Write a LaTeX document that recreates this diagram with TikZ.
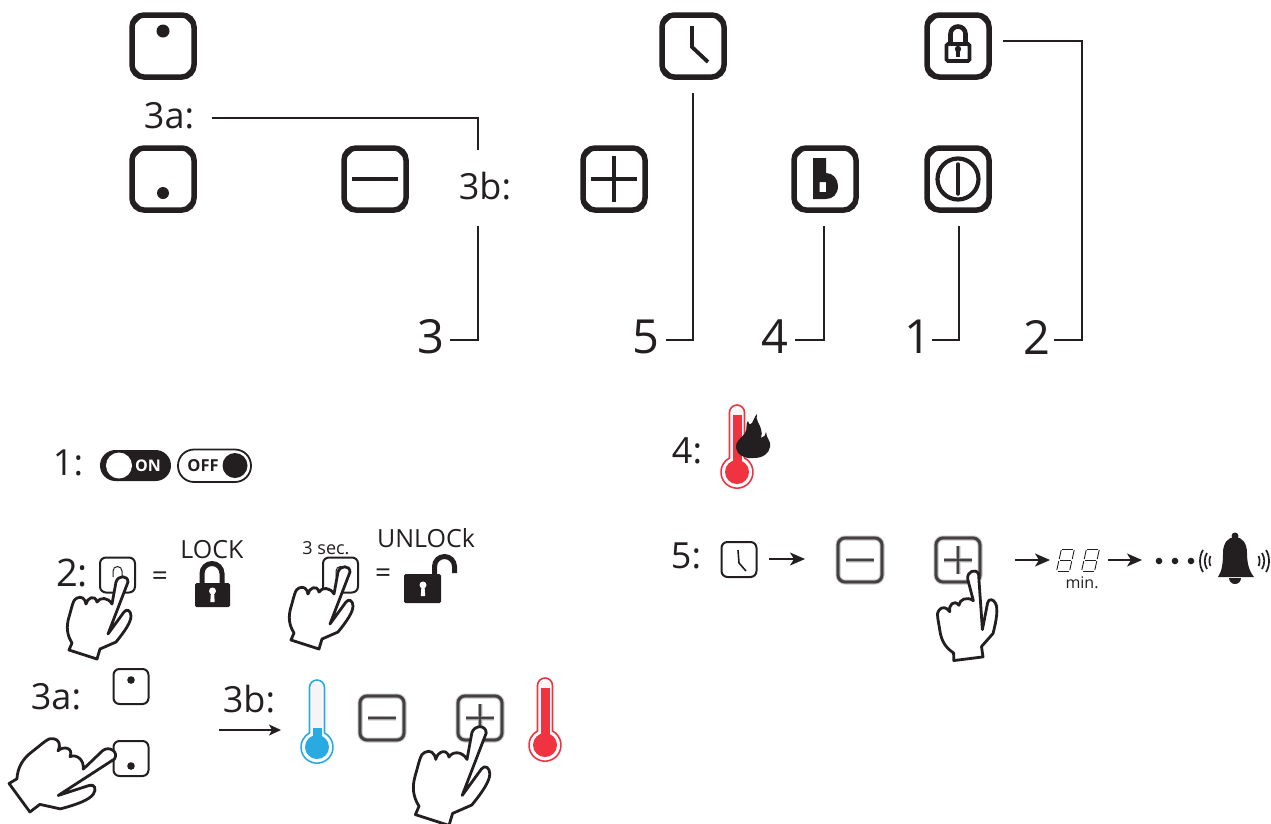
\documentclass[tikz,border=0pt]{standalone}
\usepackage{fontspec}
\setmainfont{Open Sans}
\usetikzlibrary{arrows.meta}
\definecolor{ink}{HTML}{231F20}
\definecolor{tred}{HTML}{EF3340}
\definecolor{tblue}{HTML}{29ABE2}
\newcommand{\fsz}[1]{\fontsize{#1}{#1}\selectfont}
\newcommand{\ThermoIcon}[4]{% cx, top, colour, fill top
  \draw[#3,line width=1.6,fill=white] ({#1-7.5},{#2+7.5}) arc[start angle=180,end angle=0,radius=7.5pt]
     -- ({#1+7.5},{#2+53}) arc[start angle=62,end angle=-242,radius=16pt] -- cycle;
  \fill[black!4] ({#1-5},{#2+4}) rectangle ({#1+5},{#4});
  \fill[#3] ({#1-4.5},{#4}) rectangle ({#1+4.5},{#2+60});
  \fill[#3] (#1,{#2+67}) circle[radius=12pt];
}
\newcommand{\BigLockBody}[4]{% x0 y0 x1 y1
  \fill[ink,rounded corners=1.5] (#1,#2) rectangle (#3,#4);
}
\newcommand{\KeyHole}[2]{%
  \fill[white] (#1,#2) circle[radius=3.5pt];
  \fill[white] ({#1-1.5},#2) -- ({#1+1.5},#2) -- ({#1+2.2},{#2+11}) -- ({#1-2.2},{#2+11}) -- cycle;
}
\tikzset{
  lab/.style={inner sep=0pt,text=ink},
  lead/.style={draw=ink,line width=1.5},
  btn/.style={draw=ink,line width=5.5,rounded corners=12,minimum size=62,inner sep=0pt,outer sep=2pt,rectangle},
  sbtn/.style={draw=ink,line width=2,rounded corners=6,inner sep=0pt,rectangle,minimum size=35},
  glyph/.style={draw=ink,line width=4.5},
  arr/.style={draw=ink,line width=1.5,-{Stealth[length=15pt,width=13pt,inset=4pt]}},
  thinarr/.style={draw=ink,line width=1.3,-{Stealth[length=12pt,width=11pt,inset=3pt]}},
  chamf/.pic={
    \foreach \sx/\sy in {1/1,1/-1,-1/1,-1/-1}{
      \fill[ink] ({\sx*28.5},{\sy*21.5}) -- ({\sx*21.5},{\sy*28.5}) -- ({\sx*29.5},{\sy*29.5}) -- cycle;
    }
  },
  hand/.pic={
    \draw[ink,line width=2.8,fill=white,line join=round]
      (-10,27) -- (-6,5) .. controls (-4,-2) and (6,-2) .. (6,5) -- (-14,57) -- (2,35)
      .. controls (5,31) and (9,34) .. (9,39) .. controls (9,45) and (3,54) .. (-6,65)
      -- (-22,72) -- (-25,82) -- (-53,73) -- (-50,66)
      .. controls (-55,58) and (-56,50) .. (-53,40) .. controls (-50,30) and (-49,22) .. (-45,21)
      .. controls (-41,19) and (-37,21) .. (-36,27) .. controls (-35,21) and (-27,17) .. (-25,25)
      .. controls (-22,20) and (-14,20) .. (-10,27) -- cycle;
  },
  softframe/.pic={
    \foreach \w/\o in {5.5/.15,4/.3,2.8/.75}{
      \draw[ink,opacity=\o,line width=\w,rounded corners=7] (-22,-22) rectangle (22,22);
    }
  },
  softminus/.pic={
    \pic {softframe};
    \foreach \w/\o in {5/.15,3.8/.3,2.8/.75}{
      \draw[ink,opacity=\o,line width=\w] (-14,0) -- (14,0);
    }
  },
  softplus/.pic={
    \pic {softframe};
    \foreach \w/\o in {5/.15,3.8/.3,2.8/.75}{
      \draw[ink,opacity=\o,line width=\w] (-14,0) -- (14,0) (0,-14) -- (0,14);
    }
  },
  segdigit/.pic={
    \begin{scope}[ink,line width=.9,double=white,double distance=1.3,xslant=.22]
      \draw (1,-11) -- (12,-11); \draw (1,0) -- (12,0); \draw (1,11) -- (12,11);
      \draw (0,-10) -- (0,-1); \draw (0,1) -- (0,10);
      \draw (13,-10) -- (13,-1); \draw (13,1) -- (13,10);
    \end{scope}
  },
}
\begin{document}
\begin{tikzpicture}[x=1pt,y=-1pt,line cap=butt]
\useasboundingbox (0,0) rectangle (1271,823);
% ---------- top panel buttons
\node[btn] (bA) at (163,46) {};
\node[btn] (bB) at (163,179) {};
\node[btn] (bMinus) at (375,179) {};
\node[btn] (bPlus) at (614,179) {};
\node[btn] (bClock) at (693,46) {};
\node[btn] (bHeat) at (825,179) {};
\node[btn] (bLock) at (958,46) {};
\node[btn] (bPower) at (958,179) {};
\foreach \n in {bA,bB,bMinus,bPlus,bClock,bHeat,bLock,bPower}{
  \path (\n.center) pic {chamf};
}
\fill[ink] (163,31) circle[radius=6.5pt];
\fill[ink] (163,193) circle[radius=6pt];
\draw[glyph] (352,179) -- (398,179);
\draw[glyph] (591,179) -- (637,179) (614,156) -- (614,202);
\draw[ink,line width=3.8,line join=miter] (692,26) -- (692,47) -- (708,62);
% heat glyph
\fill[ink,even odd rule] (813,158) -- (826,158) -- (826,173) -- (826,173) .. controls (833,173) and (838,179) .. (838,186) .. controls (838,194) and (833,199) .. (826,199) -- (813,199) -- cycle
   (819.5,182) rectangle (826,192);
% lock glyph
\draw[ink,line width=4.6] (950.5,44) -- (950.5,34) arc[start angle=180,end angle=0,radius=7.5pt] -- (965.5,44);
\draw[ink,line width=3.6,rounded corners=1.5] (946.5,44) rectangle (969.5,61);
\fill[ink] (958,49) circle[radius=3.2pt];
\fill[ink] (956.4,49) rectangle (959.6,56.5);
% power glyph
\draw[ink,line width=4.2] (958,179) circle[radius=20.5pt];
\draw[ink,line width=3.5,line cap=round] (958,164) -- (958,194);
% ---------- top panel labels
\node[lab,font=\fsz{36}] (l3a) at (169,116) {3a:};
\node[lab,font=\fsz{36}] (l3b) at (485,186) {3b:};
\node[lab,font=\fsz{47}] (n3) at (431,337) {3};
\node[lab,font=\fsz{47}] (n5) at (646,337) {5};
\node[lab,font=\fsz{47}] (n4) at (775,337) {4};
\node[lab,font=\fsz{47}] (n1) at (918,337) {1};
\node[lab,font=\fsz{47}] (n2) at (1037,337) {2};
% ---------- connectors
\coordinate (a3s) at (212,118); \coordinate (a3e) at (478,150);
\coordinate (b3s) at (478,226); \coordinate (b3e) at (450,340);
\coordinate (e5) at (666,340); \coordinate (t5) at (693,93);
\coordinate (e4) at (795,340); \coordinate (t4) at (824,226);
\coordinate (e1) at (932,340); \coordinate (t1) at (959,226);
\coordinate (e2) at (1054,340); \coordinate (t2) at (1003,41);
\draw[lead] (a3s) -| (a3e);
\draw[lead] (b3s) |- (b3e);
\draw[lead] (e5) -| (t5);
\draw[lead] (e4) -| (t4);
\draw[lead] (e1) -| (t1);
\draw[lead] (e2) -| (1082,41) -- (t2);
% ---------- step 1
\node[lab,font=\fsz{36}] (s1) at (68,463) {1:};
\fill[ink,rounded corners=15.5] (100,450) rectangle (171,481);
\fill[white] (119,465.5) circle[radius=13pt];
\node[lab,text=white,font=\bfseries\fsz{16}] (on) at (148,466) {ON};
\draw[ink,line width=1.8,rounded corners=16] (178,449.5) rectangle (251,482);
\fill[ink] (235,465.5) circle[radius=12.5pt];
\node[lab,font=\bfseries\fsz{16.5}] (off) at (203,466) {OFF};
% ---------- step 2
\node[lab,font=\fsz{38}] (s2) at (72,573) {2:};
\node[sbtn] (k1) at (117.5,575) {};
\draw[ink,line width=1] (113,577) -- (113,571) arc[start angle=180,end angle=0,radius=4.5pt] -- (122,577);
\pic at (122,577) {hand};
\node[lab,font=\fsz{28}] (eq1) at (160,579) {=};
\node[lab,font=\fsz{25}] (lk) at (212,550) {LOCK};
\draw[ink,line width=5] (202,585) -- (202,573.5) arc[start angle=180,end angle=0,radius=10pt] -- (222,585);
\BigLockBody{195}{583}{230}{607}
\KeyHole{212.5}{591}
\node[sbtn] (k2) at (340.5,575) {};
\draw[ink,line width=1] (336,577) -- (336,571) arc[start angle=180,end angle=0,radius=4.5pt] -- (345,577);
\pic at (344,567) {hand};
\node[lab,font=\fsz{18}] (sec) at (326,548) {3 sec.};
\node[lab,font=\fsz{28}] (eq2) at (383,576) {=};
\node[lab,font=\fsz{25}] (ulk) at (426,538) {UNLOCk};
\draw[ink,line width=5] (434.5,576) -- (434.5,566.5) arc[start angle=180,end angle=0,radius=10pt] -- (454.5,573);
\BigLockBody{404}{574}{441}{603}
\KeyHole{423}{585}
% ---------- step 3a
\node[lab,font=\fsz{36}] (s3a) at (56,697) {3a:};
\node[sbtn] (m1) at (131,686.5) {};
\fill[ink] (131,680) circle[radius=3.8pt];
\node[sbtn] (m2) at (131,758.5) {};
\fill[ink] (131,766) circle[radius=3.8pt];
\pic[rotate=-36,scale=1.2] at (112,750) {hand};
% ---------- step 3b
\node[lab,font=\fsz{36}] (s3b) at (249,699) {3b:};
\coordinate (ar0) at (219,730); \coordinate (ar1) at (281,730);
\draw[thinarr] (ar0) -- (ar1);
\ThermoIcon{317}{680}{tblue}{728}
\pic at (382,718) {softminus};
\pic at (480,718) {softplus};
\ThermoIcon{545}{678}{tred}{688}
\pic[scale=1.2] at (479,727) {hand};
% ---------- step 4
\node[lab,font=\fsz{36}] (s4) at (687,451) {4:};
\ThermoIcon{737}{405}{tred}{415}
\fill[ink] (754,458) .. controls (745,459) and (737,455) .. (736,448) .. controls (735,441) and (741,439) .. (745,433)
  .. controls (748,428) and (745,424) .. (748,421) .. controls (749,425) and (751,425) .. (752,423) .. controls (754,420) and (754,417) .. (757,414)
  .. controls (755,420) and (760,424) .. (761,429) .. controls (762,432) and (762,435) .. (761,438) .. controls (764,437) and (766,435) .. (766,432)
  .. controls (766,438) and (772,442) .. (770,447) .. controls (769,454) and (762,458) .. (754,458) -- cycle;
% ---------- step 5
\node[lab,font=\fsz{36}] (s5) at (686,556) {5:};
\node[sbtn] (c5) at (739,559.5) {};
\draw[ink,line width=1.6,line join=round] (738,550) -- (739,563) -- (746,571);
\coordinate (ar2) at (769,559); \coordinate (ar3) at (805,559);
\draw[arr] (ar2) -- (ar3);
\pic at (860,560) {softminus};
\pic at (958,560) {softplus};
\pic[rotate=25] at (971,572) {hand};
\coordinate (ar4) at (1015,560); \coordinate (ar5) at (1050,560);
\draw[arr] (ar4) -- (ar5);
\pic at (1059,560) {segdigit};
\pic at (1084,560) {segdigit};
\node[lab,font=\fsz{16}] (mn) at (1082,583) {min.};
\coordinate (ar6) at (1108,560); \coordinate (ar7) at (1142,560);
\draw[arr] (ar6) -- (ar7);
\fill[ink] (1159,561) circle[radius=3.3pt] (1175,561) circle[radius=3.3pt] (1191,561) circle[radius=3.3pt];
% sound arcs
\draw[ink,line width=1.7] (1203,550) .. controls (1199,556) and (1199,566) .. (1203,572);
\draw[ink,line width=1.7] (1207,553) .. controls (1204,558) and (1204,564) .. (1207,569);
\draw[ink,line width=1.7] (1210.5,556) .. controls (1209,559) and (1209,563) .. (1210.5,566);
\draw[ink,line width=1.7] (1266,550) .. controls (1270,556) and (1270,566) .. (1266,572);
\draw[ink,line width=1.7] (1262,553) .. controls (1265,558) and (1265,564) .. (1262,569);
\draw[ink,line width=1.7] (1258.5,556) .. controls (1260,559) and (1260,563) .. (1258.5,566);
% bell
\fill[ink] (1235,536) circle[radius=3.5pt];
\fill[ink] (1218,577) .. controls (1222,571) and (1223,563) .. (1223,553) .. controls (1223,543) and (1228,537) .. (1235,537)
  .. controls (1242,537) and (1247,543) .. (1247,553) .. controls (1247,563) and (1249,571) .. (1254,577) -- cycle;
\fill[ink] (1229,578) arc[start angle=180,end angle=360,radius=6pt] -- cycle;
\end{tikzpicture}
\end{document}
